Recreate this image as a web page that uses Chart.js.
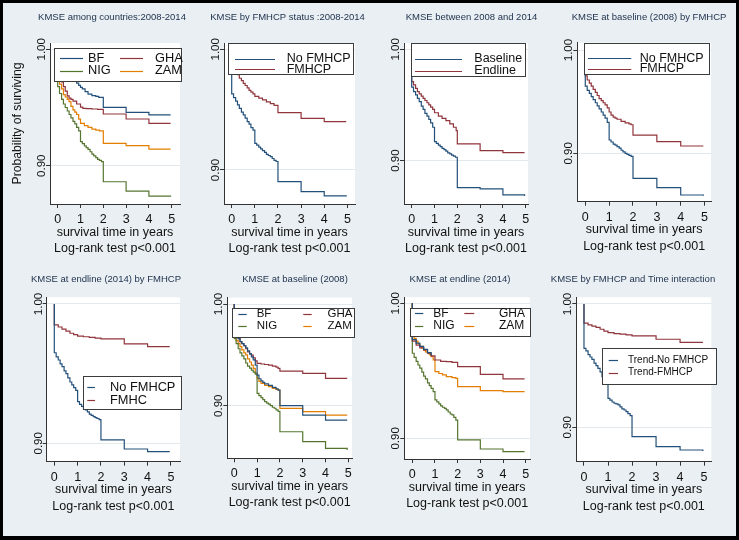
<!DOCTYPE html>
<html><head><meta charset="utf-8">
<script src="https://cdn.jsdelivr.net/npm/chart.js@4.4.1/dist/chart.umd.min.js"></script>
<style>
html,body{margin:0;padding:0;background:#000;}
#wrap{position:relative;width:739px;height:540px;background:#e9eff2;overflow:hidden;}
#frame{position:absolute;left:0;top:0;width:739px;height:540px;box-sizing:border-box;border-style:solid;border-color:#000;border-width:3px 3px 4px 3px;z-index:10;pointer-events:none;}
canvas{position:absolute;}
</style></head>
<body><div id="wrap"><div id="frame"></div></div>
<script>
// ---------------- data ----------------
const xTicks = [0, 1, 2, 3, 4, 5];
const xTickLabels = ['0', '1', '2', '3', '4', '5'];
const yTicks = [0.90, 1.00];
const yTickLabels = ['0.90', '1.00'];
const xTitle = 'survival time in years';
const testNote = 'Log-rank test p<0.001';
const yTitle = 'Probability of surviving';
const titles = [
  'KMSE among countries:2008-2014',
  'KMSE by FMHCP status :2008-2014',
  'KMSE between 2008 and 2014',
  'KMSE at baseline (2008) by FMHCP',
  'KMSE at endline (2014) by FMHCP',
  'KMSE at baseline (2008)',
  'KMSE at endline (2014)',
  'KMSE by FMHCP and Time interaction'
];
const countries = ['BF', 'GHA', 'NIG', 'ZAM'];
const fmhcpLabels = ['No FMHCP', 'FMHCP'];
const waveLabels = ['Baseline', 'Endline'];
const endFmhcLabels = ['No FMHCP', 'FMHC'];
const trendLabels = ['Trend-No FMHCP', 'Trend-FMHCP'];

// [time in years, survival probability]
const p1BF = [[0,1],[0,0.992],[0.17,0.988],[0.33,0.984],[0.5,0.98],[0.67,0.976],[0.75,0.9736],[0.83,0.971],[0.92,0.969],[1.0,0.9673],[1.08,0.966],[1.2,0.9636],[1.33,0.9615],[1.5,0.9602],[1.67,0.9595],[1.8,0.9587],[2.0,0.9501],[3.0,0.9458],[4.0,0.9436],[4.95,0.9436]];
const p1GHA = [[0,1],[0,0.985],[0.08,0.978],[0.17,0.972],[0.25,0.968],[0.33,0.964],[0.42,0.96],[0.5,0.958],[0.58,0.957],[0.67,0.9555],[0.83,0.953],[1.0,0.9504],[1.1,0.9493],[1.25,0.949],[1.5,0.9487],[1.75,0.9484],[2.0,0.9444],[3.0,0.9401],[4.0,0.9364],[4.95,0.9364]];
const p1NIG = [[0,1],[0,0.968],[0.08,0.962],[0.17,0.957],[0.25,0.953],[0.33,0.95],[0.42,0.947],[0.5,0.944],[0.58,0.941],[0.67,0.938],[0.75,0.936],[0.83,0.933],[0.92,0.93],[1.0,0.9206],[1.08,0.919],[1.17,0.917],[1.25,0.9155],[1.33,0.914],[1.42,0.912],[1.5,0.91],[1.58,0.9085],[1.67,0.907],[1.75,0.9055],[1.83,0.9045],[1.92,0.9035],[2.0,0.8862],[3.0,0.8782],[4.0,0.8739],[4.95,0.8734]];
const p1ZAM = [[0,1],[0,0.975],[0.08,0.97],[0.17,0.966],[0.25,0.961],[0.33,0.959],[0.42,0.957],[0.5,0.955],[0.58,0.951],[0.67,0.948],[0.75,0.946],[0.83,0.944],[0.92,0.94],[1.0,0.9364],[1.17,0.9345],[1.33,0.933],[1.5,0.9315],[1.67,0.9305],[1.83,0.93],[2.0,0.9192],[3.0,0.9172],[4.0,0.9143],[4.95,0.9143]];

const p2No = [[0,1],[0,0.963],[0.08,0.96],[0.17,0.957],[0.25,0.954],[0.33,0.951],[0.42,0.948],[0.5,0.9456],[0.58,0.943],[0.67,0.94],[0.75,0.938],[0.83,0.935],[0.92,0.933],[1.0,0.9221],[1.08,0.9205],[1.17,0.919],[1.25,0.9175],[1.33,0.916],[1.42,0.9145],[1.5,0.913],[1.58,0.912],[1.67,0.911],[1.75,0.9095],[1.83,0.908],[1.92,0.907],[2.0,0.8903],[3.0,0.882],[4.0,0.8785],[4.95,0.878]];
const p2Yes = [[0,1],[0,0.988],[0.08,0.985],[0.17,0.982],[0.25,0.979],[0.33,0.976],[0.42,0.974],[0.5,0.9718],[0.58,0.97],[0.67,0.968],[0.75,0.966],[0.83,0.9645],[0.92,0.963],[1.0,0.961],[1.17,0.9595],[1.33,0.958],[1.5,0.9565],[1.67,0.955],[1.83,0.9535],[2.0,0.9475],[3.0,0.9428],[4.0,0.9401],[4.95,0.9401]];

const p3Base = [[0,1],[0,0.966],[0.08,0.962],[0.17,0.959],[0.25,0.956],[0.33,0.953],[0.42,0.949],[0.5,0.946],[0.58,0.9425],[0.67,0.94],[0.75,0.937],[0.83,0.934],[0.92,0.93],[1.0,0.9171],[1.08,0.9155],[1.17,0.914],[1.25,0.9125],[1.33,0.911],[1.42,0.9098],[1.5,0.9085],[1.58,0.907],[1.67,0.906],[1.75,0.905],[1.83,0.904],[1.92,0.903],[2.0,0.8757],[3.0,0.8746],[4.0,0.8692],[4.95,0.8683]];
const p3End = [[0,1],[0,0.971],[0.08,0.968],[0.17,0.965],[0.25,0.962],[0.33,0.96],[0.42,0.958],[0.5,0.956],[0.58,0.954],[0.67,0.952],[0.75,0.95],[0.83,0.948],[0.92,0.946],[1.0,0.943],[1.17,0.94],[1.33,0.938],[1.5,0.936],[1.67,0.933],[1.83,0.93],[1.95,0.927],[2.0,0.915],[3.0,0.909],[4.0,0.9072],[4.95,0.9072]];

const p4No = [[0,1],[0,0.965],[0.08,0.961],[0.17,0.958],[0.25,0.955],[0.33,0.952],[0.42,0.949],[0.5,0.946],[0.58,0.943],[0.67,0.94],[0.75,0.937],[0.83,0.934],[0.92,0.93],[1.0,0.9129],[1.08,0.911],[1.17,0.909],[1.25,0.908],[1.33,0.9065],[1.42,0.905],[1.5,0.903],[1.58,0.9015],[1.67,0.9],[1.75,0.899],[1.83,0.898],[1.92,0.897],[2.0,0.8758],[3.0,0.8668],[4.0,0.8597],[4.95,0.859]];
const p4Yes = [[0,1],[0,0.975],[0.08,0.971],[0.17,0.968],[0.25,0.965],[0.33,0.962],[0.42,0.959],[0.5,0.956],[0.58,0.953],[0.67,0.951],[0.75,0.949],[0.83,0.947],[0.92,0.944],[1.0,0.94],[1.08,0.937],[1.17,0.935],[1.25,0.934],[1.33,0.933],[1.5,0.931],[1.67,0.9295],[1.83,0.9285],[1.92,0.9277],[2.0,0.9177],[3.0,0.9113],[4.0,0.9071],[4.95,0.9071]];

const p5No = [[0,1],[0,0.965],[0.08,0.962],[0.17,0.9598],[0.25,0.957],[0.33,0.955],[0.42,0.952],[0.5,0.95],[0.58,0.947],[0.67,0.944],[0.75,0.9419],[0.83,0.94],[0.92,0.938],[1.0,0.9299],[1.08,0.928],[1.17,0.9265],[1.25,0.925],[1.33,0.9239],[1.42,0.9225],[1.5,0.921],[1.58,0.92],[1.67,0.9191],[1.75,0.9185],[1.83,0.9178],[1.92,0.917],[2.0,0.9024],[3.0,0.8959],[4.0,0.894],[4.95,0.894]];
const p5Yes = [[0,1],[0,0.985],[0.17,0.9835],[0.33,0.982],[0.5,0.9805],[0.67,0.979],[0.83,0.978],[1.0,0.977],[1.25,0.9765],[1.5,0.976],[1.75,0.9755],[2.0,0.9749],[3.0,0.9713],[4.0,0.9694],[4.95,0.9694]];

const p6BF = [[0,1],[0,0.972],[0.08,0.969],[0.17,0.966],[0.25,0.963],[0.33,0.961],[0.42,0.959],[0.5,0.957],[0.58,0.954],[0.67,0.951],[0.75,0.948],[0.83,0.945],[0.92,0.94],[1.0,0.93],[1.08,0.9265],[1.17,0.9245],[1.25,0.923],[1.33,0.9215],[1.5,0.92],[1.67,0.918],[1.83,0.9165],[1.92,0.9154],[2.0,0.9],[3.0,0.8908],[4.0,0.8859],[4.95,0.8859]];
const p6GHA = [[0,1],[0,0.972],[0.08,0.969],[0.17,0.966],[0.25,0.963],[0.33,0.961],[0.42,0.959],[0.5,0.956],[0.58,0.953],[0.67,0.951],[0.75,0.9498],[0.83,0.947],[0.92,0.944],[1.0,0.9416],[1.17,0.941],[1.33,0.9405],[1.5,0.94],[1.67,0.939],[1.83,0.938],[1.92,0.9367],[2.0,0.9341],[3.0,0.9318],[4.0,0.9269],[4.95,0.9269]];
const p6NIG = [[0,1],[0,0.966],[0.08,0.961],[0.17,0.956],[0.25,0.952],[0.33,0.949],[0.42,0.946],[0.5,0.942],[0.58,0.939],[0.67,0.937],[0.75,0.935],[0.83,0.933],[0.92,0.931],[1.0,0.9121],[1.08,0.91],[1.17,0.908],[1.25,0.906],[1.33,0.904],[1.42,0.9025],[1.5,0.9015],[1.58,0.9],[1.67,0.8985],[1.75,0.8975],[1.83,0.896],[1.92,0.8945],[2.0,0.8744],[3.0,0.8646],[4.0,0.858],[4.95,0.8564]];
const p6ZAM = [[0,1],[0,0.968],[0.08,0.964],[0.17,0.961],[0.25,0.958],[0.33,0.955],[0.42,0.952],[0.5,0.95],[0.58,0.946],[0.67,0.943],[0.75,0.94],[0.83,0.9367],[0.92,0.932],[1.0,0.927],[1.08,0.924],[1.17,0.922],[1.33,0.92],[1.5,0.9187],[1.67,0.917],[1.83,0.916],[1.92,0.9154],[2.0,0.8974],[3.0,0.8941],[4.0,0.8908],[4.95,0.8908]];

const p7BF = [[0,1],[0,0.973],[0.17,0.9705],[0.33,0.968],[0.5,0.9658],[0.67,0.9635],[0.83,0.9612]];
const p7GHA = [[0,1],[0,0.972],[0.17,0.969],[0.33,0.967],[0.5,0.9654],[0.67,0.963],[0.83,0.961],[1.0,0.958],[1.25,0.957],[1.5,0.9568],[1.75,0.9563],[2.0,0.9531],[3.0,0.9474],[4.0,0.944],[4.95,0.944]];
const p7NIG = [[0,1],[0,0.963],[0.08,0.96],[0.17,0.957],[0.25,0.9543],[0.33,0.952],[0.42,0.949],[0.5,0.946],[0.58,0.944],[0.67,0.941],[0.75,0.939],[0.83,0.937],[0.92,0.9346],[1.0,0.9284],[1.08,0.927],[1.17,0.9255],[1.25,0.924],[1.33,0.923],[1.42,0.9222],[1.5,0.921],[1.58,0.9195],[1.67,0.918],[1.75,0.9173],[1.83,0.9155],[1.92,0.9135],[2.0,0.8988],[3.0,0.8921],[4.0,0.8901],[4.95,0.8901]];
const p7ZAM = [[0,1],[0,0.977],[0.08,0.974],[0.17,0.972],[0.25,0.97],[0.33,0.968],[0.42,0.9667],[0.5,0.965],[0.58,0.964],[0.67,0.963],[0.75,0.962],[0.83,0.9605],[0.92,0.958],[1.0,0.9494],[1.17,0.948],[1.33,0.947],[1.5,0.9457],[1.75,0.945],[1.92,0.9444],[2.0,0.9383],[3.0,0.9353],[4.0,0.9346],[4.95,0.9346]];

const p8No = [[0,1],[0,0.964],[0.08,0.962],[0.17,0.959],[0.25,0.957],[0.33,0.955],[0.42,0.952],[0.5,0.95],[0.58,0.9478],[0.67,0.945],[0.75,0.941],[0.83,0.938],[0.92,0.935],[1.0,0.9235],[1.08,0.922],[1.17,0.9205],[1.25,0.9195],[1.33,0.919],[1.42,0.9181],[1.5,0.9165],[1.58,0.915],[1.67,0.914],[1.75,0.9127],[1.83,0.911],[1.92,0.9095],[2.0,0.8924],[3.0,0.8843],[4.0,0.8816],[4.95,0.8808]];
const p8Yes = [[0,1],[0,0.9845],[0.17,0.983],[0.33,0.982],[0.5,0.981],[0.67,0.9795],[0.83,0.978],[1.0,0.9768],[1.25,0.976],[1.5,0.9755],[1.75,0.975],[2.0,0.9741],[3.0,0.9714],[4.0,0.9689],[4.95,0.9689]];

// ---------------- styling / layout ----------------
const FONT = '"Liberation Sans", Arial, Helvetica, sans-serif';
const NAVY = '#23507a', MAROON = '#90353b', GREEN = '#55752f', ORANGE = '#e37e00';
const cc = [NAVY, MAROON, GREEN, ORANGE];
const XH = 52.7; // x-axis block height

const panels = [
  {title: titles[0], labels: countries, data: [p1BF, p1GHA, p1NIG, p1ZAM], colors: cc,
   xr: [-0.338, 5.364], yr: [0.8671, 1.0054], A: {L: 50, R: 180, T: 43, B: 204}, cv: {l: 4, r: 220, t: 4, b: 262}, yTitle: true,
   lg: {box: [54, 47.5, 181, 80], cols: [[60, 83, 88], [120, 143, 155]], rows: [58.3, 70.8], size: 12.8, grid: true}},
  {title: titles[1], labels: fmhcpLabels, data: [p2No, p2Yes], colors: [NAVY, MAROON],
   xr: [-0.333, 5.33], yr: [0.8718, 1.0052], A: {L: 224, R: 355, T: 43, B: 204}, cv: {l: 204, r: 371, t: 4, b: 262},
   lg: {box: [228.3, 42.7, 353.3, 74], cols: [[235, 275, 286.7]], rows: [58.7, 69.3], size: 12.5}},
  {title: titles[2], labels: waveLabels, data: [p3Base, p3End], colors: [NAVY, MAROON],
   xr: [-0.338, 5.10], yr: [0.861, 1.0057], A: {L: 404, R: 528, T: 43, B: 204}, cv: {l: 384, r: 559, t: 4, b: 262},
   lg: {box: [411, 42.7, 525, 76], cols: [[415, 462, 474.3]], rows: [59, 70.7], size: 12.5}},
  {title: titles[3], labels: fmhcpLabels, data: [p4No, p4Yes], colors: [NAVY, MAROON],
   xr: [-0.335, 5.27], yr: [0.8532, 1.0071], A: {L: 577.3, R: 711, T: 42.7, B: 201.7}, cv: {l: 557, r: 741, t: 4, b: 262},
   lg: {box: [584, 42.7, 708.7, 74], cols: [[588, 631.3, 639.7]], rows: [58.3, 68.8], size: 12.5}},
  {title: titles[4], labels: endFmhcLabels, data: [p5No, p5Yes], colors: [NAVY, MAROON],
   xr: [-0.326, 5.39], yr: [0.8868, 1.0048], A: {L: 46.7, R: 180, T: 297.3, B: 461.7}, cv: {l: 27, r: 185, t: 266, b: 534},
   lg: {box: [83.3, 375.7, 181.7, 409], cols: [[87.3, 95, 110]], rows: [387.3, 400], size: 12.8}},
  {title: titles[5], labels: countries, data: [p6BF, p6GHA, p6NIG, p6ZAM], colors: cc,
   xr: [-0.307, 5.16], yr: [0.8483, 1.0062], A: {L: 227.3, R: 352, T: 297.7, B: 458.3}, cv: {l: 207, r: 383, t: 266, b: 534},
   lg: {box: [231.7, 307.7, 353.3, 336.7], cols: [[238.3, 246.7, 256.7], [303.3, 311.7, 327.5]], rows: [314.3, 326], size: 11.5, grid: true}},
  {title: titles[6], labels: countries, data: [p7BF, p7GHA, p7NIG, p7ZAM], colors: cc,
   xr: [-0.353, 5.19], yr: [0.8847, 1.0044], A: {L: 404.3, R: 530, T: 297.3, B: 459}, cv: {l: 384, r: 536, t: 266, b: 534},
   lg: {box: [410, 307.7, 530, 335.7], cols: [[415, 423.3, 433.3], [464.3, 474.3, 499]], rows: [313.3, 326], size: 12, grid: true}},
  {title: titles[7], labels: trendLabels, data: [p8No, p8Yes], colors: [NAVY, MAROON],
   xr: [-0.32, 5.30], yr: [0.8721, 1.0054], A: {L: 576.3, R: 711.3, T: 297.3, B: 461.7}, cv: {l: 548, r: 718, t: 266, b: 534},
   lg: {box: [602, 347.7, 715.7, 383.3], cols: [[608.7, 618, 628]], rows: [360, 372.7], size: 10}}
];

const kmPlugin = {
  id: 'km',
  beforeDraw(chart) {
    const {ctx, chartArea: a} = chart;
    ctx.save();
    ctx.fillStyle = '#ffffff';
    ctx.fillRect(a.left, a.top, a.right - a.left, a.bottom - a.top);
    ctx.restore();
  },
  afterDatasetsDraw(chart, args, opts) {
    const lg = opts.lg; if (!lg) return;
    const ox = opts.ox, oy = opts.oy;
    const ctx = chart.ctx;
    ctx.save();
    const [x1, y1, x2, y2] = lg.box;
    const bx = Math.round(x1 - ox) + 0.5, by = Math.round(y1 - oy) + 0.5;
    const bw = Math.round(x2 - x1), bh = Math.round(y2 - y1);
    ctx.fillStyle = '#ffffff';
    ctx.fillRect(bx, by, bw, bh);
    ctx.strokeStyle = '#3c3c3c'; ctx.lineWidth = 1;
    ctx.strokeRect(bx, by, bw, bh);
    ctx.font = lg.size + 'px ' + FONT;
    ctx.textBaseline = 'middle'; ctx.textAlign = 'left';
    chart.data.datasets.forEach((ds, i) => {
      const col = lg.grid ? i % 2 : 0;
      const row = lg.grid ? Math.floor(i / 2) : i;
      const c = lg.cols[col], y = lg.rows[row] - oy;
      ctx.strokeStyle = ds.borderColor; ctx.lineWidth = 1.2;
      ctx.beginPath();
      ctx.moveTo(c[0] - ox, Math.round(y) + 0.5); ctx.lineTo(c[1] - ox, Math.round(y) + 0.5);
      ctx.stroke();
      ctx.fillStyle = '#111';
      ctx.fillText(ds.label, c[2] - ox, y);
    });
    ctx.restore();
  }
};

const wrap = document.getElementById('wrap');
panels.forEach(p => {
  const cw = p.cv.r - p.cv.l, ch = p.cv.b - p.cv.t;
  const canvas = document.createElement('canvas');
  canvas.width = cw; canvas.height = ch;
  canvas.style.left = p.cv.l + 'px'; canvas.style.top = p.cv.t + 'px';
  canvas.style.width = cw + 'px'; canvas.style.height = ch + 'px';
  wrap.insertBefore(canvas, document.getElementById('frame'));
  const yW = p.A.L - p.cv.l;
  const rW = p.cv.r - p.A.R;
  const tSize = 9.5, tLH = tSize * 1.2;
  const tPadTop = 13 - tLH / 2;
  const tPadBot = (p.A.T - p.cv.t) - tPadTop - tLH;
  const padBottom = p.cv.b - (p.A.B + XH);
  new Chart(canvas, {
    type: 'line',
    data: {
      datasets: p.data.map((d, i) => ({
        label: p.labels[i],
        data: d.map(([x, y]) => ({x, y})),
        borderColor: p.colors[i], backgroundColor: p.colors[i],
        borderWidth: 1.2, pointRadius: 0, pointHoverRadius: 0,
        stepped: true, fill: false, tension: 0, xAxisID: 'x', yAxisID: 'y'
      }))
    },
    options: {
      responsive: false, animation: false, devicePixelRatio: 1, events: [],
      layout: {padding: {left: 0, right: 0, top: 0, bottom: padBottom}},
      plugins: {
        legend: {display: false}, tooltip: {enabled: false},
        title: {display: true, text: p.title, color: '#1c2f4c', fullSize: true,
                font: {family: FONT, size: tSize, weight: 'normal'}, padding: {top: tPadTop, bottom: tPadBot}},
        km: {lg: p.lg, ox: p.cv.l, oy: p.cv.t}
      },
      scales: {
        x: {
          type: 'linear', position: 'bottom', min: p.xr[0], max: p.xr[1],
          afterBuildTicks: s => { s.ticks = xTicks.map(v => ({value: v})); },
          afterFit: s => { s.height = XH; },
          ticks: {callback: (v, i) => xTickLabels[i], font: {family: FONT, size: 12.5}, color: '#111',
                  padding: 4, maxRotation: 0, minRotation: 0, autoSkip: false},
          grid: {drawOnChartArea: false, drawTicks: true, tickLength: 4, tickColor: '#333', color: '#333'},
          border: {display: true, color: '#333', width: 1},
          title: {display: true, text: [xTitle, testNote], color: '#111',
                  font: {family: FONT, size: 12.5, lineHeight: 1.3}, padding: 0}
        },
        y: {
          type: 'linear', position: 'left', min: p.yr[0], max: p.yr[1],
          afterBuildTicks: s => { s.ticks = yTicks.map(v => ({value: v})); },
          afterFit: s => { s.width = yW; },
          ticks: {callback: (v, i) => yTickLabels[i], font: {family: FONT, size: 11.5}, color: '#111',
                  minRotation: 90, maxRotation: 90, crossAlign: 'center', padding: -7.2, autoSkip: false},
          grid: {color: '#e2e8ec', lineWidth: 1, drawOnChartArea: true, drawTicks: true, tickLength: 4, tickColor: '#333'},
          border: {display: true, color: '#333', width: 1},
          title: {display: !!p.yTitle, text: yTitle, color: '#111', font: {family: FONT, size: 12.2},
                  padding: {top: 14 - 7.3, bottom: 0}}
        },
        yR: {
          type: 'linear', position: 'right', display: true,
          afterFit: s => { s.width = rW; },
          ticks: {display: false}, grid: {display: false, drawTicks: false}, border: {display: false}
        }
      }
    },
    plugins: [kmPlugin]
  });
});
</script>
</body></html>
